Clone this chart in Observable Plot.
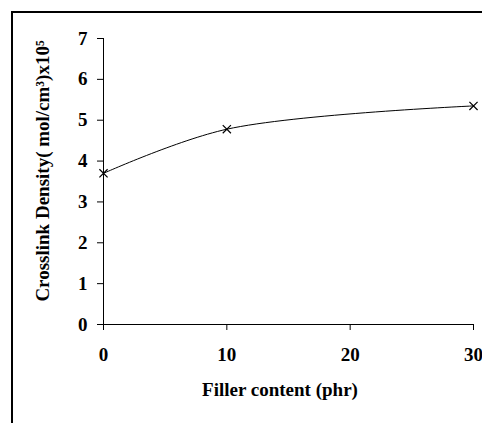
<!DOCTYPE html>
<html>
<head>
<meta charset="utf-8">
<script src="https://cdn.jsdelivr.net/npm/d3@7"></script>
<script src="https://cdn.jsdelivr.net/npm/@observablehq/plot@0.6"></script>
<style>
  html, body { margin: 0; padding: 0; background: #fff; }
  #wrap { position: relative; width: 482px; height: 423px; overflow: hidden; }
  #border { position: absolute; left: 11px; top: 11px; width: 500px; height: 450px;
            border-left: 2px solid #000; border-top: 2px solid #000; pointer-events: none; }
  svg { display: block; overflow: visible; }
  g[aria-label="x-axis tick label"], g[aria-label="y-axis tick label"] { font-size: 19px; font-weight: bold; }
</style>
</head>
<body>
<div id="wrap"><div id="border"></div></div>
<script>
const filler = [0, 10, 30];
const density = [3.7, 4.78, 5.35];
const xTicks = [0, 10, 20, 30];
const yTicks = [0, 1, 2, 3, 4, 5, 6, 7];
const xTitle = "Filler content (phr)";
const yTitle = "Crosslink Density( mol/cm\u00B3)x10\u2075";

const data = filler.map((f, i) => ({filler: f, density: density[i]}));

const font = "'Liberation Serif', 'Times New Roman', serif";

const chart = Plot.plot({
  width: 482,
  height: 423,
  marginLeft: 103,
  marginRight: 9,
  marginTop: 38,
  marginBottom: 99,
  style: {fontFamily: font, fontSize: "19px", fontWeight: "bold", color: "#000", background: "transparent", overflow: "visible"},
  x: {domain: [0, 30]},
  y: {domain: [0, 7]},
  marks: [
    Plot.ruleX([0], {y1: 0, y2: 7, stroke: "#000", strokeWidth: 1}),
    Plot.ruleY([0], {stroke: "#000", strokeWidth: 1}),
    Plot.axisX({ticks: xTicks, tickFormat: d3.format("d"), tickSize: 6, tickPadding: 17, label: null, fontSize: 19, fontWeight: "bold"}),
    Plot.axisY({ticks: yTicks, tickFormat: d3.format("d"), tickSize: 6, tickPadding: 10, label: null, fontSize: 19, fontWeight: "bold"}),
    Plot.line(data, {x: "filler", y: "density", curve: "catmull-rom", stroke: "#000", strokeWidth: 1}),
    Plot.dot(data, {x: "filler", y: "density", symbol: "times", r: 3.8, stroke: "#000", strokeWidth: 1.2}),
    Plot.text([xTitle], {frameAnchor: "bottom", text: d => d, dx: -8.5, dy: 65, fontSize: 19, fontWeight: "bold", textAnchor: "middle", lineAnchor: "middle"}),
    Plot.text([yTitle], {frameAnchor: "left", text: d => d, dx: -61, dy: -10.5, rotate: -90, fontSize: 19, fontWeight: "bold", textAnchor: "middle", lineAnchor: "middle"})
  ]
});
document.getElementById("wrap").prepend(chart);
</script>
</body>
</html>
